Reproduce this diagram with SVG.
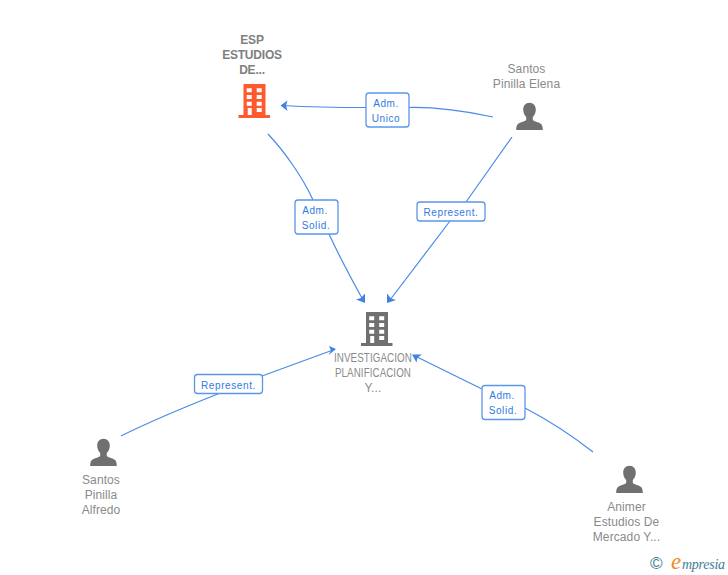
<svg xmlns="http://www.w3.org/2000/svg" width="728" height="575" viewBox="0 0 728 575">
<style>
text{font-family:"Liberation Sans",Arial,sans-serif}
.n{font-size:12px;fill:#8a8a8a;text-anchor:middle;letter-spacing:.1px}
.b{font-weight:bold;fill:#808080;letter-spacing:-.2px}
.l{font-size:10px;fill:#2f7be0;text-anchor:middle;letter-spacing:.6px}
.c{fill:none;stroke:#4a8ae6;stroke-width:1.2}
.a{fill:#3f82e4}
.box{fill:#fff;stroke:#5b96ea;stroke-width:1.3}
</style>
<defs>
<g id="bld">
<path fill-rule="evenodd" d="M243.500 84H265.500V115H270V118H238.500V115H243.500ZM246.700 88.300V92.300H251.700V88.300ZM256.700 88.300V92.300H261.700V88.300ZM246.700 95V99H251.700V95ZM256.700 95V99H261.700V95ZM246.700 101.700V105.700H251.700V101.700ZM256.700 101.700V105.700H261.700V101.700ZM247.700 108V115H251.700V108ZM256.700 108V112H261.700V108Z"/>
</g>
<path id="per" fill="#707070" d="M529.500 102.700C533.500 102.700 535.800 105.800 535.800 109.500C535.800 112.500 534.600 115 532.800 117V119.500C532.800 120.800 536 121.600 539 122.800C541.600 123.800 542.800 125.500 542.800 130H516.200C516.200 125.500 517.400 123.800 520 122.800C523 121.600 526.200 120.800 526.200 119.500V117C524.400 115 523.200 112.500 523.200 109.500C523.200 105.800 525.500 102.700 529.500 102.700Z"/>
</defs>
<g id="connectors">
<path class="c" d="M493 117C465 111 435 107 409 107.500"/>
<path class="c" d="M366 107.500C340 107.500 310 107 283 105.500"/>
<path class="a" d="M280.500 105.500L287.500 100.500L286 105.500L287.500 111Z"/>
<path class="c" d="M268 134C285 152 303 178 313 200"/>
<path class="c" d="M329 234C340 258 352 280 363 300"/>
<path class="a" d="M365 303L356 299.500L361 298L365 293.500Z"/>
<path class="c" d="M512 137L466 202"/>
<path class="c" d="M450 221L390 300"/>
<path class="a" d="M387 303L387 293.500L391 298.500L396 300Z"/>
<path class="c" d="M121 436C153 420 185 407 219 393.500"/>
<path class="c" d="M262 376L333 350"/>
<path class="a" d="M336 349L329 346L331 350.500L328.500 355Z"/>
<path class="c" d="M593 452C570 434 548 420 525 408"/>
<path class="c" d="M482 389L415 356"/>
<path class="a" d="M412 354.500L422 354.500L417.500 357.500L416.500 362.500Z"/>
</g>
<g id="node-esp">
<text class="n b" x="252" y="44">ESP</text>
<text class="n b" x="252" y="59">ESTUDIOS</text>
<text class="n b" x="252" y="74">DE...</text>
<use href="#bld" fill="#ff5a2d"/>
</g>
<g id="node-elena">
<text class="n" x="526.500" y="73">Santos</text>
<text class="n" x="526.500" y="88">Pinilla Elena</text>
<use href="#per"/>
</g>
<g id="node-investigacion">
<use href="#bld" fill="#707070" x="122.500" y="228"/>
<text class="n" x="373" y="362" textLength="78" lengthAdjust="spacingAndGlyphs">INVESTIGACION</text>
<text class="n" x="373" y="377" textLength="76" lengthAdjust="spacingAndGlyphs">PLANIFICACION</text>
<text class="n" x="373" y="392">Y...</text>
</g>
<g id="node-alfredo">
<text class="n" x="101" y="484">Santos</text>
<text class="n" x="101" y="499">Pinilla</text>
<text class="n" x="101" y="514">Alfredo</text>
<use href="#per" x="-426" y="336"/>
</g>
<g id="node-animer">
<text class="n" x="626.500" y="511">Animer</text>
<text class="n" x="626.500" y="526">Estudios De</text>
<text class="n" x="626.500" y="541">Mercado Y...</text>
<use href="#per" x="100" y="363"/>
</g>
<g id="label-unico">
<rect class="box" x="366" y="93" width="43" height="34" rx="3"/>
<text class="l" x="386" y="107">Adm.</text>
<text class="l" x="386" y="122">Unico</text>
</g>
<g id="label-solid1">
<rect class="box" x="295" y="200" width="43" height="34" rx="3"/>
<text class="l" x="315" y="214">Adm.</text>
<text class="l" x="316" y="229">Solid.</text>
</g>
<g id="label-rep1">
<rect class="box" x="417" y="202" width="68" height="19" rx="3"/>
<text class="l" x="451" y="216">Represent.</text>
</g>
<g id="label-rep2">
<rect class="box" x="194.500" y="374.500" width="68" height="19" rx="3"/>
<text class="l" x="228.500" y="389">Represent.</text>
</g>
<g id="label-solid2">
<rect class="box" x="482" y="385.500" width="43" height="34" rx="3"/>
<text class="l" x="502" y="399">Adm.</text>
<text class="l" x="503" y="414">Solid.</text>
</g>
<g id="logo">
<text x="650" y="569" font-size="17" fill="#3d7f95">©</text>
<text x="671" y="569" font-size="23" font-style="italic" fill="#f08a1d" style="font-family:'Liberation Serif',serif">e</text>
<text x="682" y="569" font-size="14" font-style="italic" fill="#3d7f95" style="font-family:'Liberation Serif',serif" textLength="43">mpresia</text>
</g>
</svg>
